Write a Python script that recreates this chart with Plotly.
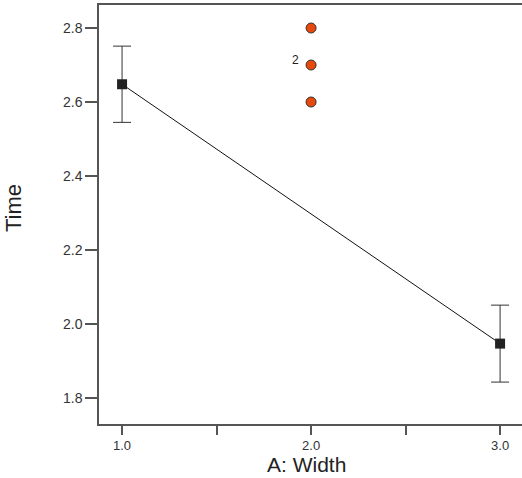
import plotly.graph_objects as go

# Data
factor_levels = [1.0, 3.0]
predicted_time = [2.648, 1.947]
ci_half_width = [0.103, 0.104]

design_x = [2.0, 2.0, 2.0]
design_time = [2.8, 2.7, 2.6]
design_counts = [1, 2, 1]

x_tick_vals = [1.0, 1.5, 2.0, 2.5, 3.0]
x_tick_text = ["1.0", "", "2.0", "", "3.0"]
y_tick_vals = [1.8, 2.0, 2.2, 2.4, 2.6, 2.8]
y_tick_text = ["1.8", "2.0", "2.2", "2.4", "2.6", "2.8"]

W, H = 522, 478
ml, mr, mt, mb = 99, 0, 5, 54

fig = go.Figure()

# prediction line
fig.add_trace(go.Scatter(
    x=factor_levels, y=predicted_time, mode="lines",
    line=dict(color="#111111", width=1), hoverinfo="skip", showlegend=False))

# end points with error bars
fig.add_trace(go.Scatter(
    x=factor_levels, y=predicted_time, mode="markers",
    marker=dict(symbol="square", size=10, color="#222222"),
    error_y=dict(type="data", array=ci_half_width, visible=True,
                 color="#333333", thickness=1, width=9),
    showlegend=False))

# design points
fig.add_trace(go.Scatter(
    x=design_x, y=design_time, mode="markers",
    marker=dict(size=10, color="#E8480C", line=dict(color="#333333", width=1)),
    showlegend=False))

# count labels
for xv, yv, c in zip(design_x, design_time, design_counts):
    if c > 1:
        fig.add_annotation(x=xv, y=yv, text=str(c), showarrow=False,
                           xanchor="center", yanchor="middle",
                           xshift=-16, yshift=5,
                           font=dict(family="Liberation Sans, Arial", size=12, color="#222222"))

fig.add_annotation(xref="paper", yref="paper", x=(306 - ml) / (W - ml - mr),
                   y=-(H - (H - mb)) / (H - mt - mb),
                   text="A: Width", showarrow=False, xanchor="center", yanchor="bottom",
                   font=dict(family="Liberation Sans, Arial", size=21, color="#222222"))
fig.add_annotation(xref="paper", yref="paper", x=(14 - ml) / (W - ml - mr),
                   y=((H - mb) - 208) / (H - mt - mb),
                   text="Time", showarrow=False, textangle=-90,
                   xanchor="center", yanchor="middle",
                   font=dict(family="Liberation Sans, Arial", size=22, color="#222222"))

fig.update_layout(
    width=W, height=H,
    margin=dict(l=ml, r=mr, t=mt, b=mb, pad=0),
    paper_bgcolor="white", plot_bgcolor="white",
    font=dict(family="Liberation Sans, Arial", size=14, color="#333333"),
    xaxis=dict(range=[0.878, 3.116], tickvals=x_tick_vals, ticktext=x_tick_text,
               showgrid=False, zeroline=False, showline=True, mirror=True,
               linecolor="#555555", linewidth=1.5, ticks="outside", ticklen=9,
               tickcolor="#555555", tickwidth=1.5, tickfont=dict(size=13)),
    yaxis=dict(range=[1.7297, 2.8622], tickvals=y_tick_vals, ticktext=y_tick_text,
               showgrid=False, zeroline=False, showline=True, mirror=False,
               linecolor="#555555", linewidth=1.5, ticks="outside", ticklen=12,
               tickcolor="#555555", tickwidth=1.5, tickfont=dict(size=14)),
)

fig.write_html("out.html")
